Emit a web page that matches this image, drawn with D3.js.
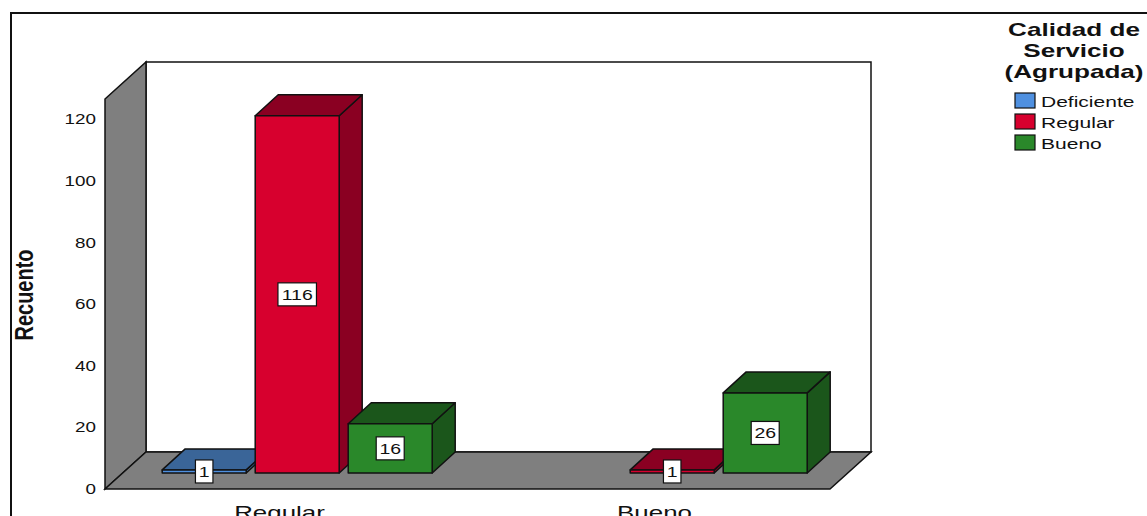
<!DOCTYPE html>
<html>
<head>
<meta charset="utf-8">
<script src="https://cdn.jsdelivr.net/npm/d3@7"></script>
<style>
  html, body { margin: 0; padding: 0; background: #fff; }
  svg { display: block; }
  text { font-family: "Liberation Sans", Arial, sans-serif; fill: #111; }
</style>
</head>
<body>
<svg id="chart" width="1147" height="516"></svg>
<script>
// Recuento por categoría y nivel de calidad de servicio
const categories = ["Regular", "Bueno"];
const seriesNames = ["Deficiente", "Regular", "Bueno"];
const deficiente = [1, 0];
const regular = [116, 1];
const bueno = [16, 26];
const yTicks = [0, 20, 40, 60, 80, 100, 120];
const legendTitle = ["Calidad de", "Servicio", "(Agrupada)"];

const seriesValues = [deficiente, regular, bueno];
const frontColors = ["#4f90e0", "#d7002e", "#2a882a"];
const darkColors = ["#3a6598", "#8a0022", "#1b561b"];

const svg = d3.select("#chart");

// layout of the 3D box
const floorLeft = 105, floorRight = 830;
const DX = 41, DY = 37;          // depth of the floor / wall
const wallTopFront = 99;         // top edge of the left wall, front plane
const barOffX = 17.7, barOffY = 16; // front plane of the bars
const barDX = 23, barDY = 21;    // depth of each bar
const sx = 1.4;                  // horizontal stretch of the lettering

const y = d3.scaleLinear().domain([0, 120]).range([489, 119.4]);
const xOuter = d3.scaleBand().domain(categories).range([92, 842]);
const xInner = d3.scaleBand().domain(seriesNames).range([-135, 135]).paddingInner(0.097);

// outer frame
svg.append("path")
  .attr("d", "M11,516 L11,13 L1147,13")
  .attr("fill", "none").attr("stroke", "#111").attr("stroke-width", 2);

const y0 = y(0);

// back wall
svg.append("rect")
  .attr("x", floorLeft + DX).attr("y", wallTopFront - DY)
  .attr("width", floorRight - floorLeft).attr("height", y0 - wallTopFront)
  .attr("fill", "#fff").attr("stroke", "#111").attr("stroke-width", 1.5);

// left wall
svg.append("polygon")
  .attr("points", [[floorLeft, wallTopFront], [floorLeft + DX, wallTopFront - DY],
                   [floorLeft + DX, y0 - DY], [floorLeft, y0]].join(" "))
  .attr("fill", "#7f7f7f").attr("stroke", "#111").attr("stroke-width", 1.5);

// floor
svg.append("polygon")
  .attr("points", [[floorLeft, y0], [floorRight, y0], [floorRight + DX, y0 - DY],
                   [floorLeft + DX, y0 - DY]].join(" "))
  .attr("fill", "#7f7f7f").attr("stroke", "#111").attr("stroke-width", 1.5);

// y-axis tick labels
svg.append("g").selectAll("text").data(yTicks).join("text")
  .attr("transform", d => `translate(96,${y(d) + 5}) scale(1.3,1)`)
  .attr("text-anchor", "end")
  .attr("font-size", 14.5)
  .text(d => d);

// y-axis title
svg.append("text")
  .attr("transform", "translate(33,295) rotate(-90) scale(1,1.25)")
  .attr("text-anchor", "middle")
  .attr("font-size", 20).attr("font-weight", "bold")
  .text("Recuento");

// bars
const bars = [];
categories.forEach((cat, ci) => {
  seriesNames.forEach((s, si) => {
    const v = seriesValues[si][ci];
    if (v > 0) bars.push({ cat, series: si, value: v });
  });
});

const gBars = svg.append("g");
bars.forEach(b => {
  const xl = xOuter(b.cat) + xOuter.bandwidth() / 2 + barOffX + xInner(seriesNames[b.series]);
  const xr = xl + xInner.bandwidth();
  const yb = y(0) - barOffY;
  const yt = y(b.value) - barOffY;
  b.cx = (xl + xr) / 2; b.cy = (yt + yb) / 2;
  const g = gBars.append("g")
    .attr("stroke", "#111").attr("stroke-width", 1.5).attr("stroke-linejoin", "round");
  // right side
  g.append("polygon")
    .attr("points", [[xr, yt], [xr + barDX, yt - barDY], [xr + barDX, yb - barDY], [xr, yb]].join(" "))
    .attr("fill", darkColors[b.series]);
  // top
  g.append("polygon")
    .attr("points", [[xl, yt], [xr, yt], [xr + barDX, yt - barDY], [xl + barDX, yt - barDY]].join(" "))
    .attr("fill", darkColors[b.series]);
  // front
  g.append("rect")
    .attr("x", xl).attr("y", yt).attr("width", xr - xl).attr("height", yb - yt)
    .attr("fill", frontColors[b.series]);
});

// value labels
const gLab = svg.append("g");
bars.forEach(b => {
  const txt = String(b.value);
  const w = txt.length * 10.5 + 7;
  gLab.append("rect")
    .attr("x", b.cx - w / 2).attr("y", b.cy - 11.5)
    .attr("width", w).attr("height", 23)
    .attr("fill", "#fff").attr("stroke", "#111").attr("stroke-width", 1.2);
  gLab.append("text")
    .attr("transform", `translate(${b.cx},${b.cy + 5.5}) scale(1.3,1)`)
    .attr("text-anchor", "middle")
    .attr("font-size", 15)
    .text(txt);
});

// category labels
svg.append("g").selectAll("text").data(categories).join("text")
  .attr("transform", d => `translate(${xOuter(d) + xOuter.bandwidth() / 2},519) scale(${sx},1)`)
  .attr("text-anchor", "middle")
  .attr("font-size", 18.5)
  .text(d => d);

// legend
const legend = svg.append("g");
legend.selectAll("text.title").data(legendTitle).join("text")
  .attr("class", "title")
  .attr("transform", (d, i) => `translate(1074,${36 + i * 21}) scale(1.45,1)`)
  .attr("text-anchor", "middle")
  .attr("font-size", 18).attr("font-weight", "bold")
  .text(d => d);

const items = legend.selectAll("g.item").data(seriesNames).join("g")
  .attr("class", "item")
  .attr("transform", (d, i) => `translate(1015,${93 + i * 21})`);
items.append("rect")
  .attr("width", 20).attr("height", 15)
  .attr("fill", (d, i) => frontColors[i])
  .attr("stroke", "#111").attr("stroke-width", 1.2);
items.append("text")
  .attr("transform", "translate(26,14) scale(1.45,1)")
  .attr("font-size", 14.5)
  .text(d => d);
</script>
</body>
</html>
